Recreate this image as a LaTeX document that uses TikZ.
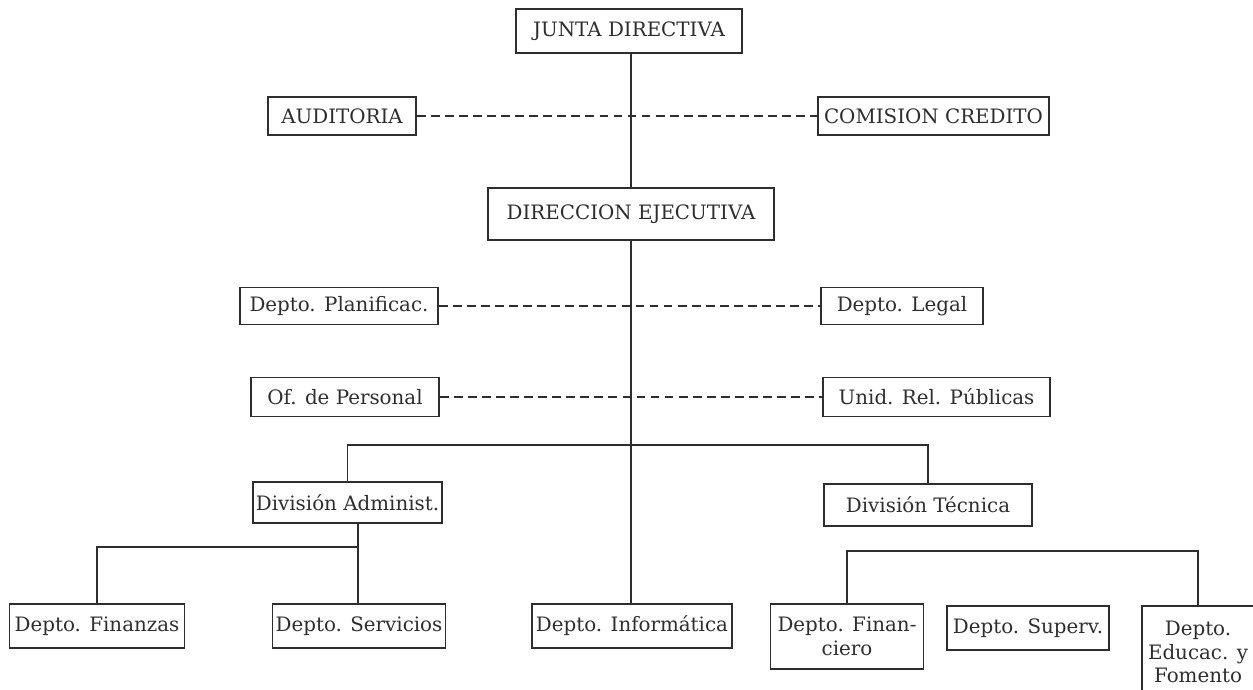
\documentclass[tikz,border=0pt]{standalone}
\usepackage{fontspec}
\setmainfont{DejaVu Serif}
\usetikzlibrary{positioning}

\definecolor{ink}{HTML}{2E2E2E}

\begin{document}
\begin{tikzpicture}[x=0.02cm, y=-0.02cm,
  orgbox/.style={draw=ink, text=ink, line width=0.9pt, inner sep=1pt,
    font=\fontsize{11.3}{13.4}\selectfont, align=center},
  link/.style={draw=ink, line width=0.9pt},
  staff/.style={link, dash pattern=on 5pt off 3pt}]
  \useasboundingbox (0,0) rectangle (1253,689);
  \fill[white] (0,0) rectangle (1253,689);

  \node[orgbox, minimum width=4.52cm, minimum height=0.88cm] (junta) at (629,31) {JUNTA DIRECTIVA};
  \node[orgbox, minimum width=2.96cm, minimum height=0.76cm] (audit) at (342,116) {AUDITORIA};
  \node[orgbox, minimum width=4.62cm, minimum height=0.76cm] (comision) at (933.5,116) {COMISION CREDITO};
  \node[orgbox, minimum width=5.72cm, minimum height=1.04cm] (direccion) at (631,214) {DIRECCION EJECUTIVA};

  \node[orgbox, minimum width=3.96cm, minimum height=0.74cm] (planif) at (339,306) {Depto. Planificac.};
  \node[orgbox, minimum width=3.24cm, minimum height=0.74cm] (legal) at (902,306) {Depto. Legal};
  \node[orgbox, minimum width=3.76cm, minimum height=0.78cm] (personal) at (345,397) {Of. de Personal};
  \node[orgbox, minimum width=4.54cm, minimum height=0.78cm] (relpub) at (936.5,397) {Unid. Rel. Públicas};

  \node[orgbox, minimum width=3.78cm, minimum height=0.82cm] (divadm) at (347.5,502.5) {División Administ.};
  \node[orgbox, minimum width=4.16cm, minimum height=0.84cm] (divtec) at (928,505) {División Técnica};

  \node[orgbox, minimum width=3.50cm, minimum height=0.88cm] (finanzas) at (97,626) {Depto. Finanzas};
  \node[orgbox, minimum width=3.46cm, minimum height=0.88cm] (servicios) at (359,626) {Depto. Servicios};
  \node[orgbox, minimum width=4.00cm, minimum height=0.88cm] (informatica) at (632,626) {Depto. Informática};
  \node[orgbox, minimum width=3.06cm, minimum height=1.30cm] (financiero) at (847,636.5) {Depto. Finan-\\ciero};
  \node[orgbox, minimum width=3.24cm, minimum height=0.88cm] (superv) at (1028,628) {Depto. Superv.};
  \node[orgbox, minimum width=2.24cm, minimum height=1.84cm] (educac) at (1198,652) {Depto.\\Educac. y\\Fomento};

  \coordinate (bar) at (631,445);
  \coordinate (adm) at (358,547);
  \coordinate (tec) at (1028,551);

  \draw[link] (direccion.north) -- (direccion.north |- junta.south);
  \draw[link] (direccion.south) -- (direccion.south |- informatica.north);
  \draw[staff] (audit.east) -- (comision.west);
  \draw[staff] (planif.east) -- (legal.west);
  \draw[staff] (personal.east) -- (relpub.west);
  \draw[link] (divadm.north) |- (bar) -| (divtec.north);
  \draw[link] (adm |- divadm.south) -- (adm |- servicios.north);
  \draw[link] (adm) -| (finanzas.north);
  \draw[link] (financiero.north) |- (tec) -| (educac.north);
\end{tikzpicture}
\end{document}
